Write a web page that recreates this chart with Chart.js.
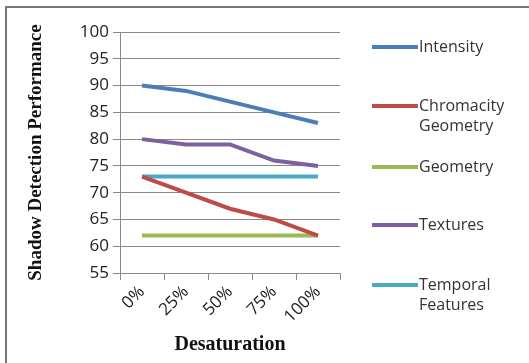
<!DOCTYPE html>
<html>
<head>
<meta charset="utf-8">
<script src="https://cdn.jsdelivr.net/npm/chart.js@4"></script>
<style>
  body { margin: 0; background: #fff; }
  #wrap { position: relative; width: 529px; height: 363px; }
  #frame { position: absolute; left: 5px; top: 6px; right: 0; bottom: 0;
           border-left: 2px solid #777; border-top: 2px solid #777; pointer-events: none; }
  #legend { position: absolute; left: 372px; top: 0; font-family: "Open Sans", sans-serif;
            font-size: 16px; color: #333; line-height: 20px; }
  .item { position: absolute; left: 0; width: 160px; }
  .swatch { position: absolute; left: 0; top: 9px; width: 46px; height: 4px; }
  .txt { position: absolute; left: 47px; top: 0; white-space: nowrap; }
</style>
</head>
<body>
<div id="wrap">
  <canvas id="canvas" width="529" height="363"></canvas>
  <div id="frame"></div>
  <div id="legend"></div>
</div>
<script>
var categories = ['0%', '25%', '50%', '75%', '100%'];
var seriesNames = [['Intensity'], ['Chromacity', 'Geometry'], ['Geometry'], ['Textures'], ['Temporal', 'Features']];
var intensity = [90, 89, 87, 85, 83];
var chromacityGeometry = [73, 70, 67, 65, 62];
var geometry = [62, 62, 62, 62, 62];
var textures = [80, 79, 79, 76, 75];
var temporalFeatures = [73, 73, 73, 73, 73];
var yTicks = [55, 60, 65, 70, 75, 80, 85, 90, 95, 100];

var colors = ['#4a7ebb', '#be4b48', '#98b954', '#7d60a0', '#46aac5'];
var values = [intensity, chromacityGeometry, geometry, textures, temporalFeatures];
var legendTop = [36, 95, 156, 214, 274];

var datasets = [];
for (var i = 0; i < values.length; i++) {
    datasets.push({
        label: seriesNames[i].join(' '),
        data: values[i],
        borderColor: colors[i],
        backgroundColor: colors[i],
        borderWidth: 4,
        pointRadius: 0,
        tension: 0,
        fill: false
    });
}

// legend built from the series names and colours
var legend = document.getElementById('legend');
for (var i = 0; i < seriesNames.length; i++) {
    var item = document.createElement('div');
    item.className = 'item';
    item.style.top = legendTop[i] + 'px';
    item.innerHTML = '<div class="swatch" style="background:' + colors[i] + '"></div>' +
        '<div class="txt">' + seriesNames[i].join('<br>') + '</div>';
    legend.appendChild(item);
}

var tickFont = { family: '"Open Sans", sans-serif', size: 17 };

new Chart('canvas', {
    type: 'line',
    data: { labels: categories, datasets: datasets },
    options: {
        responsive: false,
        animation: false,
        layout: { padding: { left: 25, right: 189, top: 32, bottom: 6 } },
        plugins: { legend: { display: false }, tooltip: { enabled: false } },
        scales: {
            x: {
                offset: true,
                grid: { display: true, drawOnChartArea: false, offset: true, color: '#888', tickLength: 7, lineWidth: 1 },
                border: { color: '#888', width: 1 },
                ticks: { color: '#222', font: { family: '"Open Sans", sans-serif', size: 17 }, maxRotation: 45, minRotation: 45, padding: 2 },
                title: { display: true, text: 'Desaturation', color: '#111', font: { family: '"Liberation Serif", "Times New Roman", serif', size: 20, weight: 'bold' }, padding: { top: 4, bottom: 0 } }
            },
            y: {
                min: 55,
                max: 100,
                afterBuildTicks: function (axis) {
                    axis.ticks = yTicks.map(function (v) { return { value: v }; });
                },
                afterFit: function (axis) { axis.width = 95; },
                grid: { color: '#888', tickLength: 7, lineWidth: 1 },
                border: { color: '#888', width: 1 },
                ticks: { color: '#222', font: tickFont, padding: 4 },
                title: { display: true, text: 'Shadow Detection Performance', color: '#111', font: { family: '"Liberation Serif", "Times New Roman", serif', size: 19, weight: 'bold' }, padding: { top: 0, bottom: 4 } }
            }
        }
    }
});
</script>
</body>
</html>
